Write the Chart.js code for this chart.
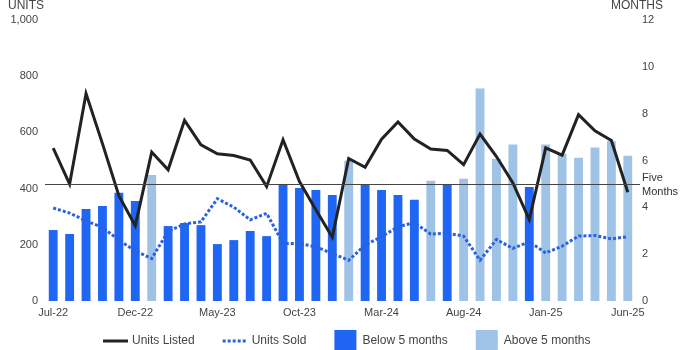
<!DOCTYPE html>
<html>
<head>
<meta charset="utf-8">
<script src="https://cdn.jsdelivr.net/npm/chart.js@4.4.1/dist/chart.umd.min.js"></script>
<style>
  html, body { margin: 0; padding: 0; background: #fff; }
  #wrap { width: 700px; height: 350px; }
</style>
</head>
<body>
<div id="wrap"><canvas id="c" width="700" height="350"></canvas></div>
<script>
// Monthly housing market series, Jul-22 .. Jun-25
const months = [
  'Jul-22','Aug-22','Sep-22','Oct-22','Nov-22','Dec-22',
  'Jan-23','Feb-23','Mar-23','Apr-23','May-23','Jun-23',
  'Jul-23','Aug-23','Sep-23','Oct-23','Nov-23','Dec-23',
  'Jan-24','Feb-24','Mar-24','Apr-24','May-24','Jun-24',
  'Jul-24','Aug-24','Sep-24','Oct-24','Nov-24','Dec-24',
  'Jan-25','Feb-25','Mar-25','Apr-25','May-25','Jun-25'
];

const unitsListed = [
  544, 416, 738, 560, 375, 268,
  530, 467, 643, 556, 524, 518,
  502, 407, 574, 425, 325, 227,
  507, 476, 576, 637, 576, 541,
  536, 485, 594, 514, 420, 290,
  545, 519, 663, 606, 571, 387
];

const unitsSold = [
  331, 313, 285, 262, 217, 178,
  151, 248, 274, 282, 364, 334,
  289, 312, 205, 205, 193, 169,
  145, 199, 229, 264, 279, 238,
  241, 231, 145, 219, 187, 211,
  171, 195, 231, 233, 221, 229
];

// Months of supply
const monthsSupply = [
  3.03, 2.86, 3.93, 4.06, 4.62, 4.27,
  5.38, 3.20, 3.33, 3.24, 2.43, 2.60,
  2.99, 2.77, 4.98, 4.83, 4.74, 4.53,
  5.99, 4.98, 4.74, 4.53, 4.32, 5.13,
  4.98, 5.22, 9.08, 6.07, 6.68, 4.87,
  6.68, 6.29, 6.12, 6.55, 6.82, 6.20
];

const fiveMonths = 5;
const unitTicks = [0, 200, 400, 600, 800, 1000];
const monthTicks = [0, 2, 4, 6, 8, 10, 12];

const belowFive = monthsSupply.map(v => v < fiveMonths ? v : null);
const aboveFive = monthsSupply.map(v => v >= fiveMonths ? v : null);

const FONT = '"Liberation Sans", Arial, sans-serif';
const TEXT = '#444';
const DARK_BLUE = '#1F66F4';
const LIGHT_BLUE = '#9FC3E6';
const SOLD_BLUE = '#2A62DC';
const LISTED = '#222';

const overlay = {
  id: 'overlay',
  afterDatasetsDraw(chart) {
    const { ctx, chartArea, scales } = chart;
    const y = Math.round(scales.y1.getPixelForValue(fiveMonths)) + 0.5;
    ctx.save();
    ctx.strokeStyle = '#444';
    ctx.lineWidth = 1;
    ctx.beginPath();
    ctx.moveTo(chartArea.left, y);
    ctx.lineTo(chartArea.right + 4, y);
    ctx.stroke();
    ctx.fillStyle = '#333';
    ctx.font = '11px ' + FONT;
    ctx.textAlign = 'left';
    ctx.textBaseline = 'middle';
    ctx.fillText('Five', chartArea.right + 6, y - 7);
    ctx.fillText('Months', chartArea.right + 6, y + 7);
    ctx.restore();
  },
  afterDraw(chart) {
    const { ctx } = chart;
    ctx.save();
    ctx.fillStyle = TEXT;
    ctx.font = '12px ' + FONT;
    ctx.textBaseline = 'alphabetic';
    ctx.textAlign = 'left';
    ctx.fillText('UNITS', 8, 8.5);
    ctx.fillText('MONTHS', 611, 8.5);

    // legend row
    const items = [
      { label: 'Units Listed', kind: 'line', color: LISTED, dash: [] },
      { label: 'Units Sold', kind: 'line', color: SOLD_BLUE, dash: [3, 2] },
      { label: 'Below 5 months', kind: 'box', color: DARK_BLUE },
      { label: 'Above 5 months', kind: 'box', color: LIGHT_BLUE }
    ];
    const cy = 341;
    let x = 103;
    ctx.textBaseline = 'middle';
    items.forEach(it => {
      if (it.kind === 'line') {
        ctx.strokeStyle = it.color;
        ctx.lineWidth = 3;
        ctx.setLineDash(it.dash);
        ctx.beginPath();
        ctx.moveTo(x, cy);
        ctx.lineTo(x + 25, cy);
        ctx.stroke();
        ctx.setLineDash([]);
        x += 29;
      } else {
        ctx.fillStyle = it.color;
        ctx.fillRect(x, cy - 11, 22, 22);
        x += 28;
      }
      ctx.fillStyle = TEXT;
      ctx.fillText(it.label, x, cy);
      x += ctx.measureText(it.label).width + 28;
    });
    ctx.restore();
  }
};

new Chart(document.getElementById('c'), {
  type: 'bar',
  data: {
    labels: months,
    datasets: [
      {
        type: 'line', label: 'Units Listed', data: unitsListed, yAxisID: 'y',
        borderColor: LISTED, backgroundColor: LISTED, borderWidth: 3,
        pointRadius: 0, tension: 0, order: 0
      },
      {
        type: 'line', label: 'Units Sold', data: unitsSold, yAxisID: 'y',
        borderColor: SOLD_BLUE, backgroundColor: SOLD_BLUE, borderWidth: 3,
        borderDash: [3, 2], pointRadius: 0, tension: 0, order: 1
      },
      {
        type: 'bar', label: 'Below 5 months', data: belowFive, yAxisID: 'y1',
        backgroundColor: DARK_BLUE, grouped: false,
        categoryPercentage: 1, barPercentage: 0.54, order: 2
      },
      {
        type: 'bar', label: 'Above 5 months', data: aboveFive, yAxisID: 'y1',
        backgroundColor: LIGHT_BLUE, grouped: false,
        categoryPercentage: 1, barPercentage: 0.54, order: 3
      }
    ]
  },
  options: {
    responsive: false,
    animation: false,
    layout: { padding: { top: 20, left: 0, right: 0, bottom: 0 } },
    plugins: { legend: { display: false }, tooltip: { enabled: false } },
    scales: {
      x: {
        offset: true,
        grid: { display: false, drawTicks: false },
        border: { display: false },
        ticks: {
          autoSkip: false, maxRotation: 0, padding: 5,
          color: TEXT, font: { family: FONT, size: 11 },
          callback: (v, i) => (i % 5 === 0 ? months[i] : '')
        },
        afterFit: s => { s.height = 49; }
      },
      y: {
        position: 'left', min: 0, max: 1000,
        grid: { display: false, drawTicks: false },
        border: { display: false },
        afterBuildTicks: s => { s.ticks = unitTicks.map(v => ({ value: v })); },
        ticks: { padding: 7, color: TEXT, font: { family: FONT, size: 11 },
          callback: v => v.toLocaleString('en-US') },
        afterFit: s => { s.width = 45; }
      },
      y1: {
        position: 'right', min: 0, max: 12,
        grid: { display: false, drawTicks: false },
        border: { display: false },
        afterBuildTicks: s => { s.ticks = monthTicks.map(v => ({ value: v })); },
        ticks: { padding: 6, color: TEXT, font: { family: FONT, size: 11 } },
        afterFit: s => { s.width = 64; }
      }
    }
  },
  plugins: [overlay]
});
</script>
</body>
</html>
